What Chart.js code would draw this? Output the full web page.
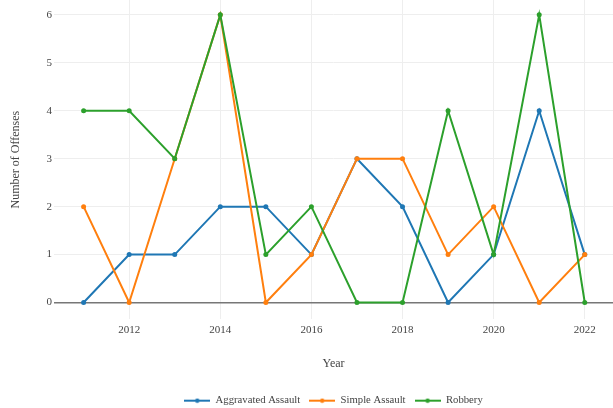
<!DOCTYPE html>
<html>
<head>
<meta charset="utf-8">
<script src="https://cdn.jsdelivr.net/npm/chart.js@4.4.1/dist/chart.umd.min.js"></script>
<style>
  html, body { margin: 0; padding: 0; background: #fff; }
  #wrap { width: 613px; height: 408px; }
</style>
</head>
<body>
<div id="wrap"><canvas id="offensesChart"></canvas></div>
<script>
// Chart data
const years = [2011, 2012, 2013, 2014, 2015, 2016, 2017, 2018, 2019, 2020, 2021, 2022];
const aggravatedAssault = [0, 1, 1, 2, 2, 1, 3, 2, 0, 1, 4, 1];
const simpleAssault = [2, 0, 3, 6, 0, 1, 3, 3, 1, 2, 0, 1];
const robbery = [4, 4, 3, 6, 1, 2, 0, 0, 4, 1, 6, 0];
const xTicks = [2012, 2014, 2016, 2018, 2020, 2022];
const yTicks = [0, 1, 2, 3, 4, 5, 6];

const FONT = "'Liberation Serif', 'Times New Roman', serif";
const TEXT = "#444";

// legend marker: a short line with a dot in the middle
function legendMarker(color) {
  const c = document.createElement("canvas");
  c.width = 26;
  c.height = 6;
  const g = c.getContext("2d");
  g.strokeStyle = color;
  g.lineWidth = 2;
  g.beginPath();
  g.moveTo(0, 3);
  g.lineTo(26, 3);
  g.stroke();
  g.fillStyle = color;
  g.beginPath();
  g.arc(13, 3, 2.2, 0, Math.PI * 2);
  g.fill();
  return c;
}

function makeSeries(label, values, color, order) {
  return {
    label: label,
    data: values.map((v, i) => ({ x: years[i], y: v })),
    borderColor: color,
    backgroundColor: color,
    borderWidth: 2,
    pointRadius: 2.5,
    pointBorderWidth: 0,
    pointStyle: "circle",
    tension: 0,
    order: order,
    legendStyle: legendMarker(color)
  };
}

const datasets = [
  makeSeries("Aggravated Assault", aggravatedAssault, "#1f77b4", 2),
  makeSeries("Simple Assault", simpleAssault, "#ff7f0e", 1),
  makeSeries("Robbery", robbery, "#2ca02c", 0)
];

// no extra room for tick labels at the edges of the axes
function noEdgePadding(scale) {
  scale.paddingTop = 0;
  scale.paddingBottom = 0;
  scale.paddingLeft = 0;
  scale.paddingRight = 0;
}

new Chart(document.getElementById("offensesChart"), {
  type: "line",
  data: { datasets: datasets },
  options: {
    responsive: true,
    maintainAspectRatio: false,
    animation: false,
    layout: { autoPadding: false, padding: { top: 0, right: 0, bottom: -8, left: 0 } },
    plugins: {
      tooltip: { enabled: false },
      legend: {
        position: "bottom",
        fullSize: false,
        labels: {
          usePointStyle: true,
          pointStyleWidth: 26,
          padding: 9,
          color: TEXT,
          font: { family: FONT, size: 10.7 },
          generateLabels: function (chart) {
            return chart.data.datasets.map((ds, i) => ({
              text: ds.label,
              fillStyle: ds.borderColor,
              strokeStyle: ds.borderColor,
              fontColor: TEXT,
              lineWidth: 0,
              pointStyle: ds.legendStyle,
              hidden: false,
              datasetIndex: i
            }));
          }
        }
      }
    },
    scales: {
      x: {
        type: "linear",
        min: 2010.35,
        max: 2022.62,
        afterBuildTicks: (scale) => { scale.ticks = xTicks.map(v => ({ value: v })); },
        afterFit: (scale) => { noEdgePadding(scale); scale.height = 67; },
        border: { display: false },
        grid: { color: "#eeeeee", lineWidth: 1, drawTicks: false },
        ticks: {
          padding: 4,
          color: TEXT,
          font: { family: FONT, size: 11 },
          maxRotation: 0,
          callback: (v) => String(v)
        },
        title: {
          display: true,
          text: "Year",
          color: TEXT,
          font: { family: FONT, size: 12 },
          padding: { top: 0, bottom: 15 }
        }
      },
      y: {
        min: -0.35,
        max: 6.31,
        afterBuildTicks: (scale) => { scale.ticks = yTicks.map(v => ({ value: v })); },
        afterFit: (scale) => { noEdgePadding(scale); scale.width = 54; },
        border: { display: false },
        grid: {
          drawTicks: false,
          color: (ctx) => (ctx.tick && ctx.tick.value === 0 ? "#777777" : "#eeeeee"),
          lineWidth: (ctx) => (ctx.tick && ctx.tick.value === 0 ? 1.6 : 1)
        },
        ticks: {
          padding: 2,
          color: TEXT,
          font: { family: FONT, size: 11 }
        },
        title: {
          display: true,
          text: "Number of Offenses",
          color: TEXT,
          font: { family: FONT, size: 12 },
          padding: { top: 9, bottom: 0 }
        }
      }
    }
  }
});
</script>
</body>
</html>
